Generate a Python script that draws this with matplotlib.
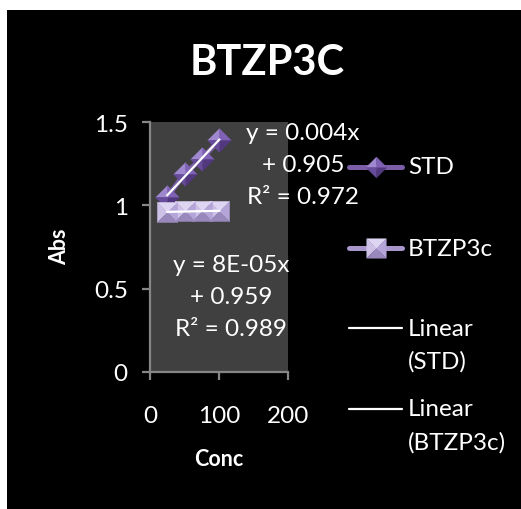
import matplotlib
matplotlib.use("Agg")
import matplotlib.pyplot as plt
import numpy as np
from matplotlib.lines import Line2D
from matplotlib.patches import Rectangle

# concentration series and absorbance readings
conc = [25, 50, 75, 100]
std_abs = [1.05, 1.19, 1.28, 1.39]
btz_abs = [0.960, 0.964, 0.965, 0.967]
series_names = ["STD", "BTZP3c"]
std_eq = ["y = 0.004x", "+ 0.905", "R² = 0.972"]
btz_eq = ["y = 8E-05x", "+ 0.959", "R² = 0.989"]
yticks = [0, 0.5, 1, 1.5]
ytick_labels = ["0", "0.5", "1", "1.5"]
xticks = [0, 100, 200]

plt.rcParams['font.family'] = ['Lato', 'DejaVu Sans']

W, H = 521, 510
fig = plt.figure(figsize=(W / 100, H / 100), dpi=100, facecolor="black")
# thin white margin along the top and left edges
fig.add_artist(Rectangle((0, 0), 7 / W, 1, transform=fig.transFigure,
                         facecolor="white", edgecolor="none", zorder=0))
fig.add_artist(Rectangle((0, 1 - 11 / H), 1, 11 / H, transform=fig.transFigure,
                         facecolor="white", edgecolor="none", zorder=0))

ax = fig.add_axes([150 / W, 1 - 373 / H, 138.5 / W, 250 / H])
ax.set_facecolor("#404040")
ax.set_xlim(0, 200)
ax.set_ylim(0, 1.5)


def facets(corners):
    # split a polygon into triangles meeting at the centre (pyramid look)
    out = []
    n = len(corners)
    for i in range(n):
        out.append([corners[i], corners[(i + 1) % n], (0, 0)])
    return out


diamond = facets([(-1, 0), (0, 1), (1, 0), (0, -1)])
diamond_cols = ["#a088d0", "#7f62b5", "#52387f", "#684c9c"]
square = facets([(-1, -1), (-1, 1), (1, 1), (1, -1)])
square_cols = ["#cdc1e8", "#ded5f3", "#b4a4d7", "#9888bc"]


def bevel(axis, x, y, shape, cols, ms, z):
    for verts, c in zip(shape, cols):
        axis.plot(x, y, ls="none", marker=verts, ms=ms, mfc=c, mec=c,
                  mew=0.3, zorder=z)


ax.plot(conc, std_abs, color="#7b5ea7", lw=3.6, zorder=2)
bevel(ax, conc, std_abs, diamond, diamond_cols, 17, 3)
ax.plot(conc, btz_abs, color="#a996cb", lw=3.6, zorder=4)
bevel(ax, conc, btz_abs, square, square_cols, 14.5, 5)

# linear trendlines across the data range
xs = np.array([min(conc), max(conc)])
for ys in (std_abs, btz_abs):
    k, b = np.polyfit(conc, ys, 1)
    ax.plot(xs, k * xs + b, color="white", lw=1.6, zorder=6)

for side in ("top", "right"):
    ax.spines[side].set_visible(False)
for side in ("left", "bottom"):
    ax.spines[side].set_color("#868686")
    ax.spines[side].set_linewidth(1.6)
ax.set_yticks(yticks)
ax.set_yticklabels(ytick_labels)
ax.set_xticks(xticks)
ax.tick_params(colors="#868686", labelcolor="white", labelsize=17.5, width=1.6,
               length=6, direction="out")
ax.tick_params(axis="x", pad=18)
ax.tick_params(axis="y", pad=10)

fig.text(267 / W, 1 - 63 / H, "BTZP3C", color="white", fontsize=30,
         fontweight="bold", ha="center", va="center")
fig.text(60 / W, 1 - 247 / H, "Abs", color="white", fontsize=15.5,
         fontweight="bold", ha="center", va="center", rotation=90)
fig.text(219 / W, 1 - 460 / H, "Conc", color="white", fontsize=15.5,
         fontweight="bold", ha="center", va="center")

for i, line in enumerate(std_eq):
    fig.text(303 / W, 1 - (134 + 32 * i) / H, line, color="white", fontsize=17.5,
             ha="center", va="center")
for i, line in enumerate(btz_eq):
    fig.text(231 / W, 1 - (265 + 32 * i) / H, line, color="white", fontsize=17.5,
             ha="center", va="center")

# legend on the right
lx0, lx1, tx = 349 / W, 402 / W, 408 / W
entries = [
    (168, "STD", "#7b5ea7", diamond, diamond_cols, 15),
    (249, "BTZP3c", "#a996cb", square, square_cols, 14),
    (329, "Linear\n(STD)", "white", None, None, 0),
    (410, "Linear\n(BTZP3c)", "white", None, None, 0),
]
for ypix, label, col, shape, cols, ms in entries:
    yf = 1 - ypix / H
    lw = 3.6 if shape else 1.6
    fig.add_artist(Line2D([lx0, lx1], [yf, yf], color=col, lw=lw,
                          transform=fig.transFigure, solid_capstyle="round"))
    if shape:
        for verts, c in zip(shape, cols):
            fig.add_artist(Line2D([(lx0 + lx1) / 2], [yf], ls="none", marker=verts,
                                  ms=ms, mfc=c, mec=c, mew=0.3,
                                  transform=fig.transFigure))
    parts = label.split("\n")
    for j, part in enumerate(parts):
        fig.text(tx, yf - 33 * j / H, part, color="white", fontsize=17.5,
                 ha="left", va="center")

fig.savefig("out.png", dpi=100, facecolor="black")
